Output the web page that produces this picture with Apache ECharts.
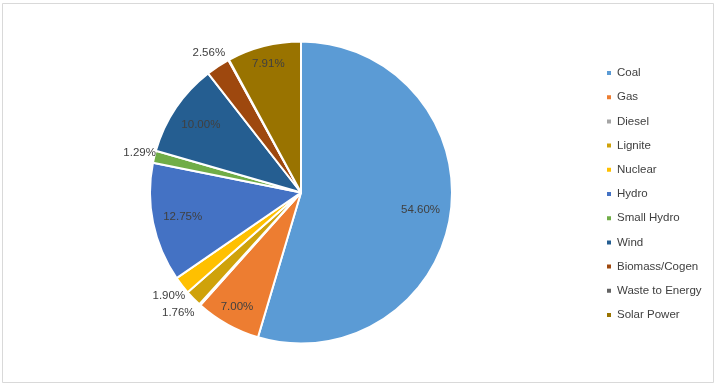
<!DOCTYPE html>
<html>
<head>
<meta charset="utf-8">
<script src="https://cdn.jsdelivr.net/npm/echarts@6/dist/echarts.min.js"></script>
<style>
  html, body { margin: 0; padding: 0; background: #ffffff; }
  #chart { width: 718px; height: 388px; }
</style>
</head>
<body>
<div id="chart"></div>
<script>
// ---- data ----
const categories = ['Coal', 'Gas', 'Diesel', 'Lignite', 'Nuclear', 'Hydro', 'Small Hydro', 'Wind', 'Biomass/Cogen', 'Waste to Energy', 'Solar Power'];
const shares = [54.60, 7.00, 0.15, 1.76, 1.90, 12.75, 1.29, 10.00, 2.56, 0.08, 7.91];
const showLabel = [true, true, false, true, true, true, true, true, true, false, true];

// ---- style ----
const colors = ['#5B9BD5', '#ED7D31', '#A5A5A5', '#CFA20A', '#FFC000', '#4472C4', '#70AD47', '#255E91', '#9E480E', '#636363', '#997300'];
const labelRadiusFrac = [0.80, 0.87, 0.8, 1.14, 1.11, 0.80, 1.10, 0.80, 1.11, 0.8, 0.88];
const CX = 301, CY = 192.5, R = 151;
const FONT = '"Liberation Sans", Arial, sans-serif';

const chart = echarts.init(document.getElementById('chart'), null, { renderer: 'canvas' });

const data = categories.map((name, i) => ({
  name: name,
  value: shares[i],
  itemStyle: { color: colors[i] },
  label: { show: showLabel[i] }
}));

chart.setOption({
  backgroundColor: '#ffffff',
  animation: false,
  graphic: [{
    type: 'rect',
    shape: { x: 2.5, y: 3.5, width: 711, height: 379 },
    style: { fill: 'none', stroke: '#D9D9D9', lineWidth: 1 },
    silent: true
  }],
  legend: {
    orient: 'vertical',
    left: 600,
    top: 61,
    icon: 'rect',
    itemWidth: 6,
    itemHeight: 6,
    itemGap: 10.2,
    textStyle: { color: '#404040', fontSize: 11.5, fontFamily: FONT, lineHeight: 14 },
    data: categories
  },
  series: [{
    type: 'pie',
    center: [CX, CY],
    radius: [0, R],
    startAngle: 90,
    clockwise: true,
    avoidLabelOverlap: false,
    data: data,
    itemStyle: { borderColor: '#ffffff', borderWidth: 2 },
    label: {
      show: true,
      position: 'inside',
      color: '#404040',
      fontSize: 11.5,
      fontFamily: FONT,
      formatter: p => p.value.toFixed(2) + '%'
    },
    labelLine: { show: false },
    emphasis: { disabled: true },
    labelLayout: function (p) {
      const f = labelRadiusFrac[p.dataIndex];
      const r = p.labelRect;
      const lx = r.x + r.width / 2, ly = r.y + r.height / 2;
      const vx = lx - CX, vy = ly - CY;
      const d = Math.hypot(vx, vy) || 1;
      const k = f * R / d;
      return { x: CX + vx * k, y: CY + vy * k, align: 'center', verticalAlign: 'middle' };
    }
  }]
});
</script>
</body>
</html>
